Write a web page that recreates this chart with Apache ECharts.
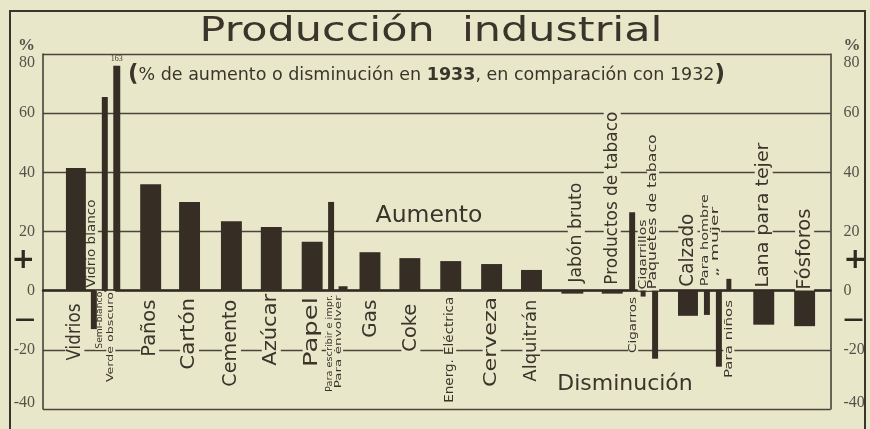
<!DOCTYPE html>
<html>
<head>
<meta charset="utf-8">
<title>Producción industrial</title>
<script src="https://cdn.jsdelivr.net/npm/echarts@6/dist/echarts.min.js"></script>
<style>
    html, body { margin: 0; padding: 0; background: #e9e7ca; }
    #main { width: 870px; height: 429px; }
</style>
</head>
<body>
<div id="main"></div>
<script>
// datos: % de aumento o disminución en 1933, en comparación con 1932
var categorias = ['Vidrios', 'Vidrio blanco', 'Semi-blanco', 'Verde obscuro', 'Paños', 'Cartón',
    'Cemento', 'Azúcar', 'Papel', 'Para escribir e impr.', 'Para envolver', 'Gas', 'Coke',
    'Energ. Eléctrica', 'Cerveza', 'Alquitrán', 'Jabón bruto', 'Productos de tabaco', 'Cigarros',
    'Cigarrillos', 'Paquetes de tabaco', 'Calzado', 'Para hombre', '„ mujer', 'Para niños',
    'Lana para tejer', 'Fósforos'];
var valores = [41.5, -13, 65.5, 163, 36, 30, 23.5, 21.5, 16.5, 30, 1.5, 13, 11, 10, 9, 7,
    -1, -1, 26.5, -2, -23, -8.5, -8.2, -25.7, 4, -11.5, -12];
var etiquetasEje = ['-40', '-20', '0', '20', '40', '60', '80'];

// disposición: centro de cada barra sobre el eje x (0..790), ancho, etiqueta girada
var posX = [33, 51, 62, 74, 108, 147, 189, 229, 270, 289, 301, 328, 368, 409, 450, 490,
    531, 571, 591, 602, 614, 647, 666, 678, 688, 723, 764];
var ancho = [20, 6, 6, 7, 21, 21, 21, 21, 21, 6, 9, 21, 21, 21, 21, 21,
    22, 21, 6, 5, 6, 20, 6, 6, 5, 21, 21];
var etqDx = [-1, -2, -5, -6, -1, 0, 0, 0, 0, -1, -4, 1, 1, -1, 0, 0,
    4, 0, 1, 0, -2, 0, -2, -3, 0, 0, 0];
var etqGap = [12, 2, 0, 0, 8, 6, 8, 2, 5, 3, 3, 8, 12, 5, 5, 8,
    7, 5, 5, 0, 0, 3, 3, 12, 8, 2, 0];
var etqSize = [19, 12, 9, 9, 19, 19, 19, 19, 19, 8, 8, 19, 19, 13, 18, 18,
    17, 17, 10, 11, 12, 19, 10, 10, 11, 18, 19];
var etqLen = [57, 88, 57, 90, 57, 72, 87, 72, 70, 97, 93, 38, 48, 106, 90, 82,
    100, 173, 56, 70, 155, 73, 92, 70, 78, 145, 81];
var TOPE = 76; // la barra de 163 se corta en el dibujo

var FONDO = '#e9e7ca';
var TINTA = '#3a352b';
var FUENTE = 'DejaVu Sans';

(function() {
    var myChart = echarts.init(document.getElementById('main'));

    // para estirar los textos a su largo
    var ctx = document.createElement('canvas').getContext('2d');
    function estirar(txt, size, len) {
        ctx.font = size + 'px "' + FUENTE + '"';
        return len / ctx.measureText(txt).width;
    }

    var datos = posX.map(function(x, i) { return [x, valores[i]]; });

    function marca(v) {
        if (v === 80) return '{p|%}\n{n|80}';
        if (v === 10) return '{s|+}';
        if (v === -10) return '{m|—}';
        if (v === -40) return '{b|-40}';
        if (v % 20 === 0) return '{n|' + etiquetasEje[(v + 40) / 20] + '}';
        return '';
    }
    var ricos = {
        n: { fontSize: 16, fontFamily: 'Liberation Sans Narrow', color: '#55524a' },
        b: { fontSize: 16, fontFamily: 'Liberation Sans Narrow', color: '#55524a', padding: [0, 0, 12, 0] },
        p: { fontSize: 17, fontFamily: 'Liberation Sans Narrow', color: '#55524a', fontWeight: 'bold' },
        s: { fontSize: 28, fontFamily: FUENTE, color: '#2e2a22', fontWeight: 'bold' },
        m: { fontSize: 20, fontFamily: FUENTE, color: '#2e2a22', fontWeight: 'bold' }
    };

    var titulo = 'Producción  industrial';

    var option = {
        backgroundColor: FONDO,
        grid: { left: 43, right: 37, top: 54, bottom: 20 },
        xAxis: {
            type: 'value',
            min: 0,
            max: 790,
            axisLine: { show: true, onZero: true, lineStyle: { color: '#2e2a22', width: 2.5 } },
            axisTick: { show: false },
            axisLabel: { show: false },
            splitLine: { show: false }
        },
        yAxis: [{
            type: 'value',
            min: -40,
            max: 80,
            interval: 20,
            position: 'left',
            axisLine: { show: true, lineStyle: { color: '#3d382e', width: 1.5 } },
            axisTick: { show: false },
            axisLabel: { show: false },
            splitLine: { lineStyle: { color: '#4a4538', width: 1.3 } }
        }, {
            type: 'value',
            min: -40,
            max: 80,
            interval: 10,
            position: 'left',
            axisLine: { show: false },
            axisTick: { show: false },
            splitLine: { show: false },
            axisLabel: { formatter: marca, margin: 8, rich: ricos }
        }, {
            type: 'value',
            min: -40,
            max: 80,
            interval: 10,
            position: 'right',
            axisLine: { show: true, lineStyle: { color: '#3d382e', width: 1.5 } },
            axisTick: { show: false },
            splitLine: { show: false },
            axisLabel: { formatter: marca, margin: 13, rich: ricos }
        }],
        graphic: [{
            type: 'rect',
            shape: { x: 10, y: 11, width: 855, height: 440 },
            style: { fill: null, stroke: TINTA, lineWidth: 2 }
        }, {
            // título, ensanchado como en el original
            type: 'text',
            x: 431,
            y: 32,
            scaleX: estirar(titulo, 34, 463),
            style: { text: titulo, fontSize: 34, fontFamily: FUENTE, fill: TINTA, align: 'center', verticalAlign: 'middle' }
        }, {
            type: 'text',
            x: 128,
            y: 75,
            style: {
                text: '{p|(}{t|% de aumento o disminución en }{b|1933}{t|, en comparación con 1932}{p|)}',
                verticalAlign: 'middle',
                rich: {
                    t: { fontSize: 17.5, fontFamily: FUENTE, fill: TINTA },
                    b: { fontSize: 17.5, fontFamily: FUENTE, fill: TINTA, fontWeight: 'bold' },
                    p: { fontSize: 23, fontFamily: FUENTE, fill: TINTA, fontWeight: 'bold' }
                }
            }
        }, {
            type: 'text',
            x: 429,
            y: 216,
            style: { text: 'Aumento', fontSize: 23.5, fontFamily: FUENTE, fill: TINTA, align: 'center', verticalAlign: 'middle' }
        }, {
            type: 'text',
            x: 625,
            y: 384,
            style: { text: 'Disminución', fontSize: 22, fontFamily: FUENTE, fill: TINTA, align: 'center', verticalAlign: 'middle' }
        }],
        series: [{
            name: 'Producción industrial',
            type: 'custom',
            clip: false,
            data: datos,
            encode: { x: 0, y: 1 },
            renderItem: function(params, api) {
                var i = params.dataIndex;
                var x = api.value(0);
                var v = api.value(1);
                var p0 = api.coord([x, 0]);
                var p1 = api.coord([x, Math.min(v, TOPE)]);
                var w = api.size([ancho[i], 0])[0];
                var abajo = v >= 0;
                var txt = categorias[i];
                var hijos = [{
                    type: 'rect',
                    z2: 10,
                    shape: {
                        x: p0[0] - w / 2,
                        y: Math.min(p0[1], p1[1]),
                        width: w,
                        height: Math.abs(p1[1] - p0[1])
                    },
                    style: { fill: '#362e24' }
                }, {
                    type: 'text',
                    z2: 5,
                    x: api.coord([x + etqDx[i], 0])[0],
                    y: p0[1] + (abajo ? etqGap[i] : -etqGap[i]),
                    rotation: Math.PI / 2,
                    scaleX: estirar(txt, etqSize[i], etqLen[i]),
                    style: {
                        text: txt,
                        fontSize: etqSize[i],
                        fontFamily: FUENTE,
                        fill: TINTA,
                        align: abajo ? 'right' : 'left',
                        verticalAlign: 'middle',
                        backgroundColor: FONDO,
                        padding: [0, 1]
                    }
                }];
                if (v > TOPE) {
                    hijos.push({
                        type: 'text',
                        x: p1[0],
                        y: p1[1] - 3,
                        style: { text: String(v), fontSize: 8, fontFamily: 'Liberation Sans Narrow', fill: TINTA, align: 'center', verticalAlign: 'bottom' }
                    });
                }
                return { type: 'group', children: hijos };
            }
        }]
    };

    myChart.setOption(option);

    window.addEventListener("resize", function() {
        myChart.resize();
    })
})();
</script>
</body>
</html>
